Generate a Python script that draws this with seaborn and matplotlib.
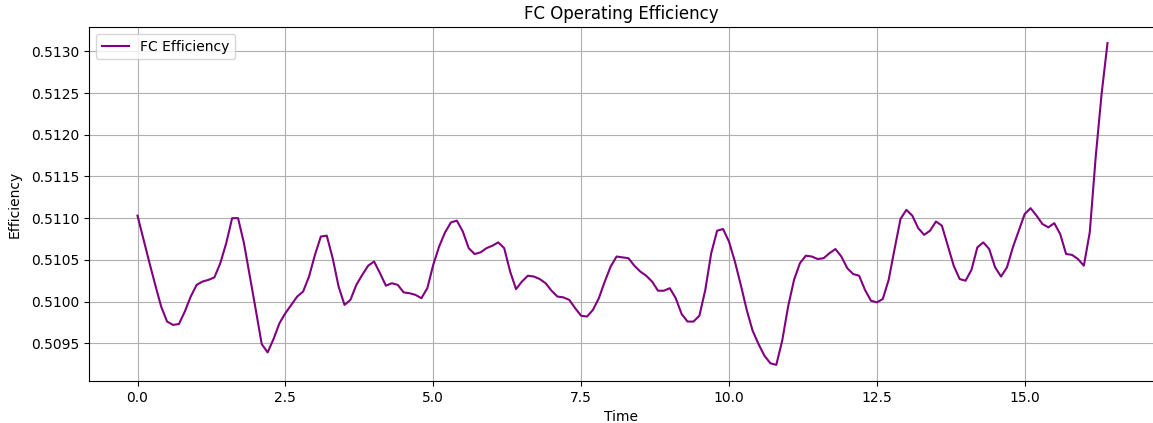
import numpy as np
import pandas as pd
import matplotlib
matplotlib.use("Agg")
import matplotlib.pyplot as plt
import seaborn as sns

efficiency = [
    0.51103, 0.51075, 0.51047, 0.51020, 0.50994, 0.50976, 0.50972, 0.50973, 0.50988, 0.51006,
    0.51020, 0.51024, 0.51026, 0.51029, 0.51046, 0.51070, 0.51100, 0.51100, 0.51070, 0.51030,
    0.50990, 0.50949, 0.50939, 0.50955, 0.50974, 0.50986, 0.50996, 0.51006, 0.51012, 0.51030,
    0.51056, 0.51078, 0.51079, 0.51052, 0.51018, 0.50996, 0.51002, 0.51020, 0.51032, 0.51043,
    0.51048, 0.51034, 0.51019, 0.51022, 0.51020, 0.51011, 0.51010, 0.51008, 0.51004, 0.51016,
    0.51044, 0.51066, 0.51083, 0.51095, 0.51097, 0.51084, 0.51064, 0.51057, 0.51059, 0.51064,
    0.51067, 0.51071, 0.51064, 0.51036, 0.51015, 0.51024, 0.51031, 0.51030, 0.51027, 0.51022,
    0.51013, 0.51006, 0.51005, 0.51002, 0.50992, 0.50983, 0.50982, 0.50990, 0.51004, 0.51024,
    0.51042, 0.51054, 0.51053, 0.51052, 0.51043, 0.51036, 0.51031, 0.51024, 0.51013, 0.51013,
    0.51016, 0.51004, 0.50985, 0.50976, 0.50976, 0.50983, 0.51014, 0.51058, 0.51085, 0.51087,
    0.51072, 0.51048, 0.51020, 0.50990, 0.50965, 0.50949, 0.50935, 0.50926, 0.50924, 0.50953,
    0.50994, 0.51026, 0.51046, 0.51055, 0.51054, 0.51051, 0.51052, 0.51058, 0.51063, 0.51054,
    0.51040, 0.51033, 0.51031, 0.51014, 0.51001, 0.50999, 0.51003, 0.51026, 0.51063, 0.51099,
    0.51110, 0.51103, 0.51088, 0.51080, 0.51085, 0.51096, 0.51091, 0.51067, 0.51043, 0.51027,
    0.51025, 0.51038, 0.51065, 0.51071, 0.51063, 0.51041, 0.51030, 0.51041, 0.51065, 0.51085,
    0.51105, 0.51112, 0.51103, 0.51093, 0.51089, 0.51094, 0.51081, 0.51057, 0.51056, 0.51051,
    0.51043, 0.51083, 0.51173, 0.51249, 0.51310,
]
time = np.round(np.arange(len(efficiency)) * 0.1, 1)

df = pd.DataFrame({"Time": time, "Efficiency": efficiency})

W, H = 1153, 423
fig = plt.figure(figsize=(W / 100, H / 100), dpi=100)
fig.patch.set_facecolor("white")
left, right, top, bottom = 89, 1170, 27, 381
ax = fig.add_axes([left / W, (H - bottom) / H, (right - left) / W, (bottom - top) / H])

sns.lineplot(data=df, x="Time", y="Efficiency", ax=ax, color="purple",
             linewidth=1.5, label="FC Efficiency")
# keep the same data scale as the (cropped) original axes
x0 = -0.05 * time[-1]
x1 = 1.05 * time[-1]
span = (x1 - x0) * (right - left) / (1156 - left)
ax.set_xlim(x0, x0 + span)
ax.spines["right"].set_visible(False)
ax.set_title("FC Operating Efficiency", fontsize=12,
             x=(621.5 - left) / (right - left))
ax.set_xlabel("Time", x=(621.5 - left) / (right - left))
ax.set_ylabel("Efficiency", labelpad=7)
ax.grid(True)
ax.ticklabel_format(axis="y", useOffset=False)
ax.legend(loc="upper left")

fig.savefig("out.png", dpi=100)
